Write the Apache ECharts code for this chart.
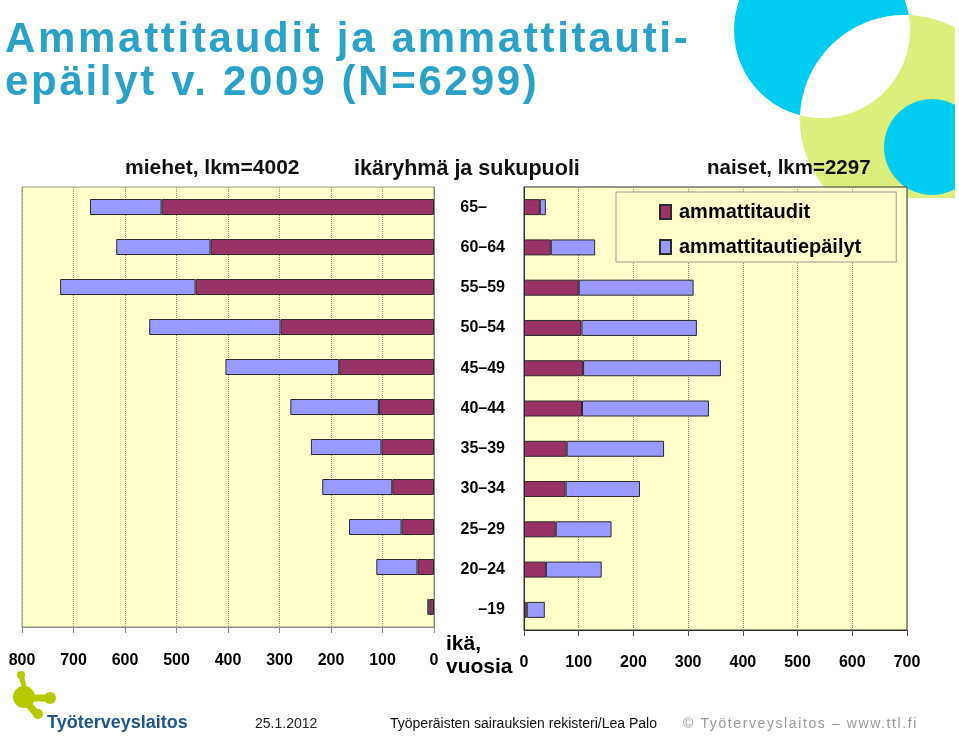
<!DOCTYPE html>
<html>
<head>
<meta charset="utf-8">
<script src="https://cdn.jsdelivr.net/npm/echarts@6/dist/echarts.min.js"></script>
<style>html,body{margin:0;padding:0;background:#fff;}#c{width:959px;height:737px;}</style>
</head>
<body>
<div id="c"></div>
<script>
// ---- data ----
const categories = ['–19', '20–24', '25–29', '30–34', '35–39', '40–44', '45–49', '50–54', '55–59', '60–64', '65–'];
const menTaudit = [9, 32, 63, 81, 102, 107, 184, 298, 463, 434, 529];
const menEpailyt = [4, 80, 102, 136, 137, 172, 221, 255, 263, 183, 139];
const womenTaudit = [5, 40, 58, 76, 78, 106, 108, 105, 100, 49, 29];
const womenEpailyt = [33, 102, 102, 136, 178, 232, 252, 211, 210, 81, 11];
const menTicks = [0, 100, 200, 300, 400, 500, 600, 700, 800];
const womenTicks = [0, 100, 200, 300, 400, 500, 600, 700];
const seriesNames = ['ammattitaudit', 'ammattitautiepäilyt'];

// letter spacing for a few spaced texts (canvas letterSpacing)
const SPACED = {
  'Ammattitaudit ja ammattitauti-': '2.7px',
  'epäilyt v. 2009 (N=6299)': '2.7px',
  '© Työterveyslaitos – www.ttl.fi': '1.6px'
};
const _fill = CanvasRenderingContext2D.prototype.fillText;
CanvasRenderingContext2D.prototype.fillText = function (t, x, y, w) {
  const ls = SPACED[t];
  if (ls && ('letterSpacing' in this)) {
    const f = this.font;
    this.letterSpacing = ls;
    this.font = f;
    const r = w === undefined ? _fill.call(this, t, x, y) : _fill.call(this, t, x, y, w);
    this.letterSpacing = '0px';
    this.font = f;
    return r;
  }
  if ('letterSpacing' in this && this.letterSpacing !== '0px') {
    const f = this.font;
    this.letterSpacing = '0px';
    this.font = f;
  }
  return w === undefined ? _fill.call(this, t, x, y) : _fill.call(this, t, x, y, w);
};

const SANS = "'Liberation Sans', Arial, sans-serif";
const MAROON = '#993366', LILAC = '#9999ff', YELLOW = '#ffffcc';

// decorative lens (intersection of two circles) as polygon points
function lensPoints(c1, r1, c2, r2) {
  const dx = c2[0] - c1[0], dy = c2[1] - c1[1], d = Math.hypot(dx, dy);
  const a = (r1 * r1 - r2 * r2 + d * d) / (2 * d), h = Math.sqrt(r1 * r1 - a * a);
  const mx = c1[0] + a * dx / d, my = c1[1] + a * dy / d;
  const p1 = [mx + h * dy / d, my - h * dx / d], p2 = [mx - h * dy / d, my + h * dx / d];
  const pts = [];
  const arc = (c, r, from, to) => {
    let a0 = Math.atan2(from[1] - c[1], from[0] - c[0]);
    let a1 = Math.atan2(to[1] - c[1], to[0] - c[0]);
    while (a1 < a0) a1 += Math.PI * 2;
    if (a1 - a0 > Math.PI) { a1 -= Math.PI * 2; }
    for (let i = 0; i <= 30; i++) {
      const t = a0 + (a1 - a0) * i / 30;
      pts.push([c[0] + r * Math.cos(t), c[1] + r * Math.sin(t)]);
    }
  };
  arc(c1, r1, p1, p2);
  arc(c2, r2, p2, p1);
  return pts;
}
const cyanC = [822, 30], cyanR = 88, greenC = [905, 120], greenR = 105;

const chart = echarts.init(document.getElementById('c'), null, { renderer: 'canvas' });

const barBase = { type: 'bar', barWidth: 16, itemStyle: { borderColor: '#2b2b2b', borderWidth: 1 } };
const G = '#b5c900';
const T = (text, left, top, style) => ({ text, left, top, padding: 0, textStyle: Object.assign({ fontFamily: SANS }, style) });

const option = {
  animation: false,
  backgroundColor: '#ffffff',
  title: [
    T('Ammattitaudit ja ammattitauti-\nepäilyt v. 2009 (N=6299)', 5, 19, { fontWeight: 'bold', fontSize: 42, lineHeight: 43, color: '#2aa2c8' }),
    T('miehet, lkm=4002', 125, 158, { fontWeight: 'bold', fontSize: 21, color: '#111' }),
    T('ikäryhmä ja sukupuoli', 354, 158, { fontWeight: 'bold', fontSize: 21.5, color: '#111' }),
    T('naiset, lkm=2297', 707, 158, { fontWeight: 'bold', fontSize: 20.5, color: '#111' }),
    T('ikä,\nvuosia', 446, 633, { fontWeight: 'bold', fontSize: 21, lineHeight: 23, color: '#000' }),
    T('Työterveyslaitos', 47, 714, { fontWeight: 'bold', fontSize: 18, color: '#1f5591' }),
    T('25.1.2012', 255, 717, { fontWeight: 'normal', fontSize: 14, color: '#222' }),
    T('Työperäisten sairauksien rekisteri/Lea Palo', 390, 717, { fontWeight: 'normal', fontSize: 14, color: '#111' }),
    T('© Työterveyslaitos – www.ttl.fi', 683, 717, { fontWeight: 'normal', fontSize: 14, color: '#999' })
  ],
  graphic: [
    { type: 'circle', z: -10, shape: { cx: cyanC[0], cy: cyanC[1], r: cyanR }, style: { fill: '#00ccf2' } },
    { type: 'circle', z: -10, shape: { cx: greenC[0], cy: greenC[1], r: greenR }, style: { fill: '#dcee7c' } },
    { type: 'polygon', z: -9, shape: { points: lensPoints(cyanC, cyanR, greenC, greenR) }, style: { fill: '#ffffff' } },
    { type: 'circle', z: -8, shape: { cx: 932, cy: 147, r: 48 }, style: { fill: '#00ccf2' } },
    { type: 'rect', z: -7, shape: { x: 955, y: 0, width: 10, height: 260 }, style: { fill: '#ffffff' } },
    { type: 'rect', z: -7, shape: { x: 908, y: 198, width: 60, height: 60 }, style: { fill: '#ffffff' } },
    // logo
    { type: 'line', z: -5, shape: { x1: 21, y1: 675, x2: 25, y2: 690 }, style: { stroke: G, lineWidth: 5 } },
    { type: 'circle', z: -5, shape: { cx: 21, cy: 675, r: 4 }, style: { fill: G } },
    { type: 'circle', z: -5, shape: { cx: 24, cy: 697, r: 11 }, style: { fill: G } },
    { type: 'line', z: -5, shape: { x1: 24, y1: 698, x2: 50, y2: 698 }, style: { stroke: G, lineWidth: 7 } },
    { type: 'circle', z: -5, shape: { cx: 50, cy: 698, r: 6 }, style: { fill: G } },
    { type: 'line', z: -5, shape: { x1: 24, y1: 700, x2: 37, y2: 714 }, style: { stroke: G, lineWidth: 7 } },
    { type: 'circle', z: -5, shape: { cx: 38, cy: 714, r: 5 }, style: { fill: G } }
  ],
  legend: {
    orient: 'vertical', left: 616, top: 192,
    padding: [9, 35, 4, 43], itemWidth: 11, itemHeight: 14, itemGap: 13,
    backgroundColor: YELLOW, borderColor: '#999', borderWidth: 1,
    icon: 'rect',
    textStyle: { fontFamily: SANS, fontWeight: 'bold', fontSize: 20, lineHeight: 22, color: '#000', padding: [0, 0, 0, 3] },
    data: seriesNames
  },
  grid: [
    { left: 22, right: 959 - 434, top: 187, bottom: 737 - 627, show: true, backgroundColor: YELLOW, borderColor: '#9a9a88', borderWidth: 1 },
    { left: 524, right: 959 - 907, top: 187, bottom: 737 - 630, show: true, backgroundColor: YELLOW, borderColor: '#333', borderWidth: 1 }
  ],
  xAxis: [
    { gridIndex: 0, type: 'value', inverse: true, min: menTicks[0], max: menTicks[menTicks.length - 1], interval: 100,
      axisLine: { show: true, lineStyle: { color: '#888' } },
      axisTick: { show: true, length: 6, lineStyle: { color: '#888' } },
      splitLine: { show: true, lineStyle: { color: '#8a8a8a', type: 'dotted' } },
      axisLabel: { margin: 26, fontFamily: SANS, fontWeight: 'bold', fontSize: 16, color: '#000' } },
    { gridIndex: 1, type: 'value', min: womenTicks[0], max: womenTicks[womenTicks.length - 1], interval: 100,
      axisLine: { show: true, lineStyle: { color: '#333' } },
      axisTick: { show: true, length: 6, lineStyle: { color: '#555' } },
      splitLine: { show: true, lineStyle: { color: '#8a8a8a', type: 'dotted' } },
      axisLabel: { margin: 25, fontFamily: SANS, fontWeight: 'bold', fontSize: 16, color: '#000' } }
  ],
  yAxis: [
    { gridIndex: 0, type: 'category', data: categories, position: 'right',
      axisLine: { show: true, lineStyle: { color: '#888' } }, axisTick: { show: false }, axisLabel: { show: false } },
    { gridIndex: 1, type: 'category', data: categories, position: 'left',
      axisLine: { show: true, lineStyle: { color: '#333' } }, axisTick: { show: false },
      axisLabel: { margin: 19, align: 'right', fontFamily: SANS, fontWeight: 'bold', fontSize: 16, color: '#000',
        formatter: v => v === '65–' ? '{p|' + v + '}' : v,
        rich: { p: { fontFamily: SANS, fontWeight: 'bold', fontSize: 16, color: '#000', padding: [0, 18, 0, 0] } } } }
  ],
  series: [
    Object.assign({}, barBase, { name: seriesNames[0], stack: 'men', xAxisIndex: 0, yAxisIndex: 0, data: menTaudit, itemStyle: Object.assign({}, barBase.itemStyle, { color: MAROON }) }),
    Object.assign({}, barBase, { name: seriesNames[1], stack: 'men', xAxisIndex: 0, yAxisIndex: 0, data: menEpailyt, itemStyle: Object.assign({}, barBase.itemStyle, { color: LILAC }) }),
    Object.assign({}, barBase, { name: seriesNames[0], stack: 'women', xAxisIndex: 1, yAxisIndex: 1, data: womenTaudit, itemStyle: Object.assign({}, barBase.itemStyle, { color: MAROON }) }),
    Object.assign({}, barBase, { name: seriesNames[1], stack: 'women', xAxisIndex: 1, yAxisIndex: 1, data: womenEpailyt, itemStyle: Object.assign({}, barBase.itemStyle, { color: LILAC }) })
  ]
};
chart.setOption(option);
</script>
</body>
</html>
